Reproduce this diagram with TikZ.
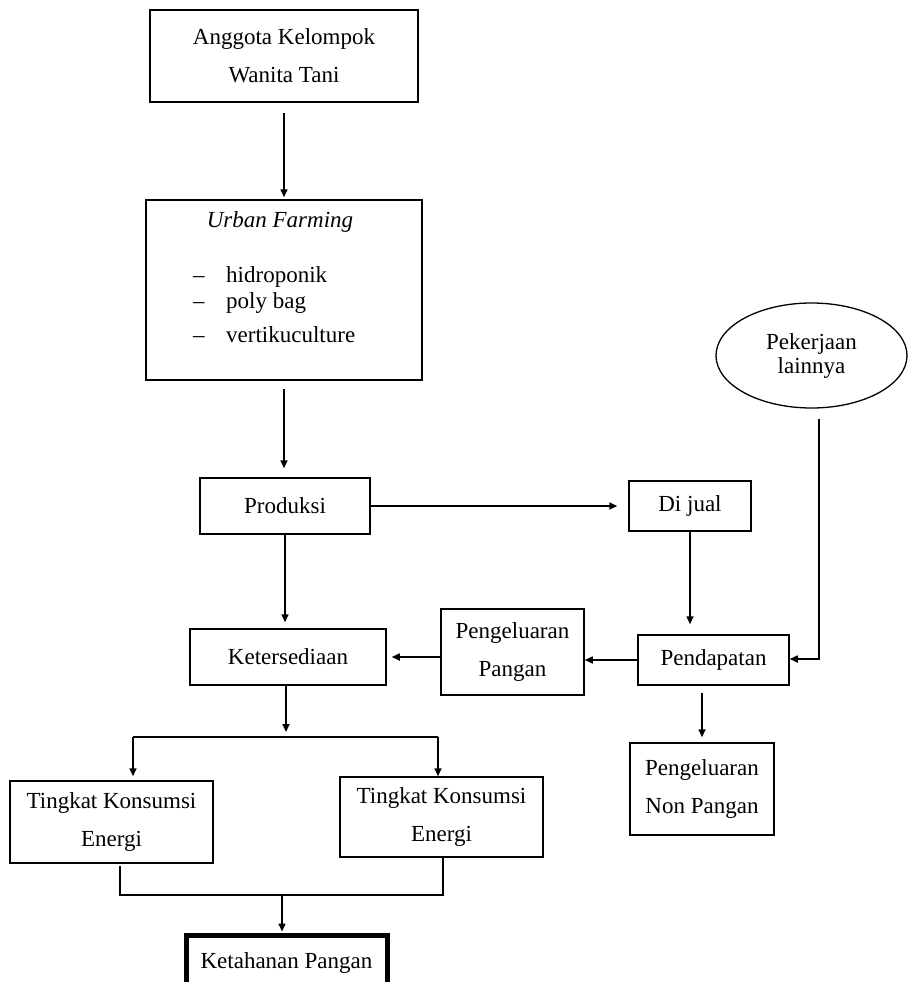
\documentclass[tikz,border=0pt]{standalone}
\usepackage{fontspec}
\setmainfont{Liberation Serif}
\usetikzlibrary{arrows.meta, shapes.geometric}

\begin{document}
\begin{tikzpicture}[x=1pt, y=-1pt,
    box/.style={draw, line width=1.5pt, inner sep=0pt, align=center,
                font=\fontsize{23}{38}\selectfont},
    flow/.style={-{Triangle[length=8pt, width=7pt]}, line width=1.6pt},
    link/.style={line width=1.6pt},
    note/.style={font=\fontsize{23}{26}\selectfont, inner sep=0pt},
]
    \useasboundingbox (0,0) rectangle (909,982);

    % upper column
    \node[box, minimum width=268pt, minimum height=92pt] (anggota) at (284, 56)
        {Anggota Kelompok\\Wanita Tani};
    \node[box, minimum width=276pt, minimum height=180pt] (urban) at (284, 290) {};
    \node[note, anchor=base] (urbantitle) at (280, 227) {\textit{Urban Farming}};
    \foreach \name/\txt/\yy in {hidro/hidroponik/282, poly/poly bag/308, vertiku/vertikuculture/342} {
        \node[note, anchor=base west] (\name dash) at (193, \yy) {--};
        \node[note, anchor=base west] (\name) at (226, \yy) {\txt};
    }

    \node[box, minimum width=170pt, minimum height=56pt] (produksi) at (285, 506) {Produksi};
    \node[box, minimum width=122pt, minimum height=50pt] (dijual) at (690, 506) {Di jual};
    \node[draw, ellipse, line width=1.3pt, inner sep=0pt, align=center,
          minimum width=191pt, minimum height=105pt,
          font=\fontsize{23}{24}\selectfont] (lainnya) at (811.5, 355.5) {Pekerjaan\\lainnya};

    \node[box, minimum width=196pt, minimum height=56pt] (sedia) at (288, 657) {Ketersediaan};
    \node[box, minimum width=143pt, minimum height=86pt] (pangan) at (512.5, 652) {Pengeluaran\\Pangan};
    \node[box, minimum width=151pt, minimum height=50pt] (pendapatan) at (713.5, 660) {Pendapatan};
    \node[box, minimum width=144pt, minimum height=92pt] (nonpangan) at (702, 789) {Pengeluaran\\Non Pangan};

    \node[box, minimum width=203pt, minimum height=82pt] (tingkatA) at (111.5, 822) {Tingkat Konsumsi\\Energi};
    \node[box, minimum width=203pt, minimum height=80pt] (tingkatB) at (441.5, 817) {Tingkat Konsumsi\\Energi};
    \node[box, line width=5pt, minimum width=201pt, minimum height=56pt] (ketahanan) at (286.5, 963)
        {Ketahanan Pangan};

    % branch points
    \coordinate (split) at (286, 737);
    \coordinate (splitL) at (133, 737);
    \coordinate (splitR) at (438, 737);
    \coordinate (joinL) at (120, 895);
    \coordinate (joinR) at (443, 895);
    \coordinate (join) at (282, 895);
    \coordinate (lainturn) at (819, 659);

    \draw[flow, shorten <=10pt, shorten >=2pt] (anggota) -- (urban);
    \draw[flow, shorten <=8pt, shorten >=9pt] (urban.south) -- (urban.south |- produksi.north);
    \draw[flow, shorten >=11pt] (produksi.east) -- (produksi.east -| dijual.west);
    \draw[flow, shorten >=6pt] (produksi.south) -- (produksi.south |- sedia.north);
    \draw[flow, shorten >=10pt] (dijual.south) -- (dijual.south |- pendapatan.north);
    \draw[flow] (pendapatan.west) -- (pendapatan.west -| pangan.east);
    \draw[flow, shorten >=5pt] (pangan.west |- sedia.east) -- (sedia.east);
    \draw[flow, shorten <=10pt] (lainturn |- lainnya.south) -- (lainturn) -- (lainturn -| pendapatan.east);
    \draw[flow, shorten <=7pt, shorten >=5pt] (nonpangan.north |- pendapatan.south) -- (nonpangan.north);

    \draw[flow, shorten >=5pt] (split |- sedia.south) -- (split);
    \draw[link] (splitL) -- (splitR);
    \draw[flow, shorten >=4pt] (splitL) -- (splitL |- tingkatA.north);
    \draw[flow] (splitR) -- (splitR |- tingkatB.north);
    \draw[link, shorten <=2pt] (joinL |- tingkatA.south) -- (joinL) -- (joinR) -- (joinR |- tingkatB.south);
    \draw[flow, shorten >=1pt] (join) -- (join |- ketahanan.north);
\end{tikzpicture}
\end{document}
